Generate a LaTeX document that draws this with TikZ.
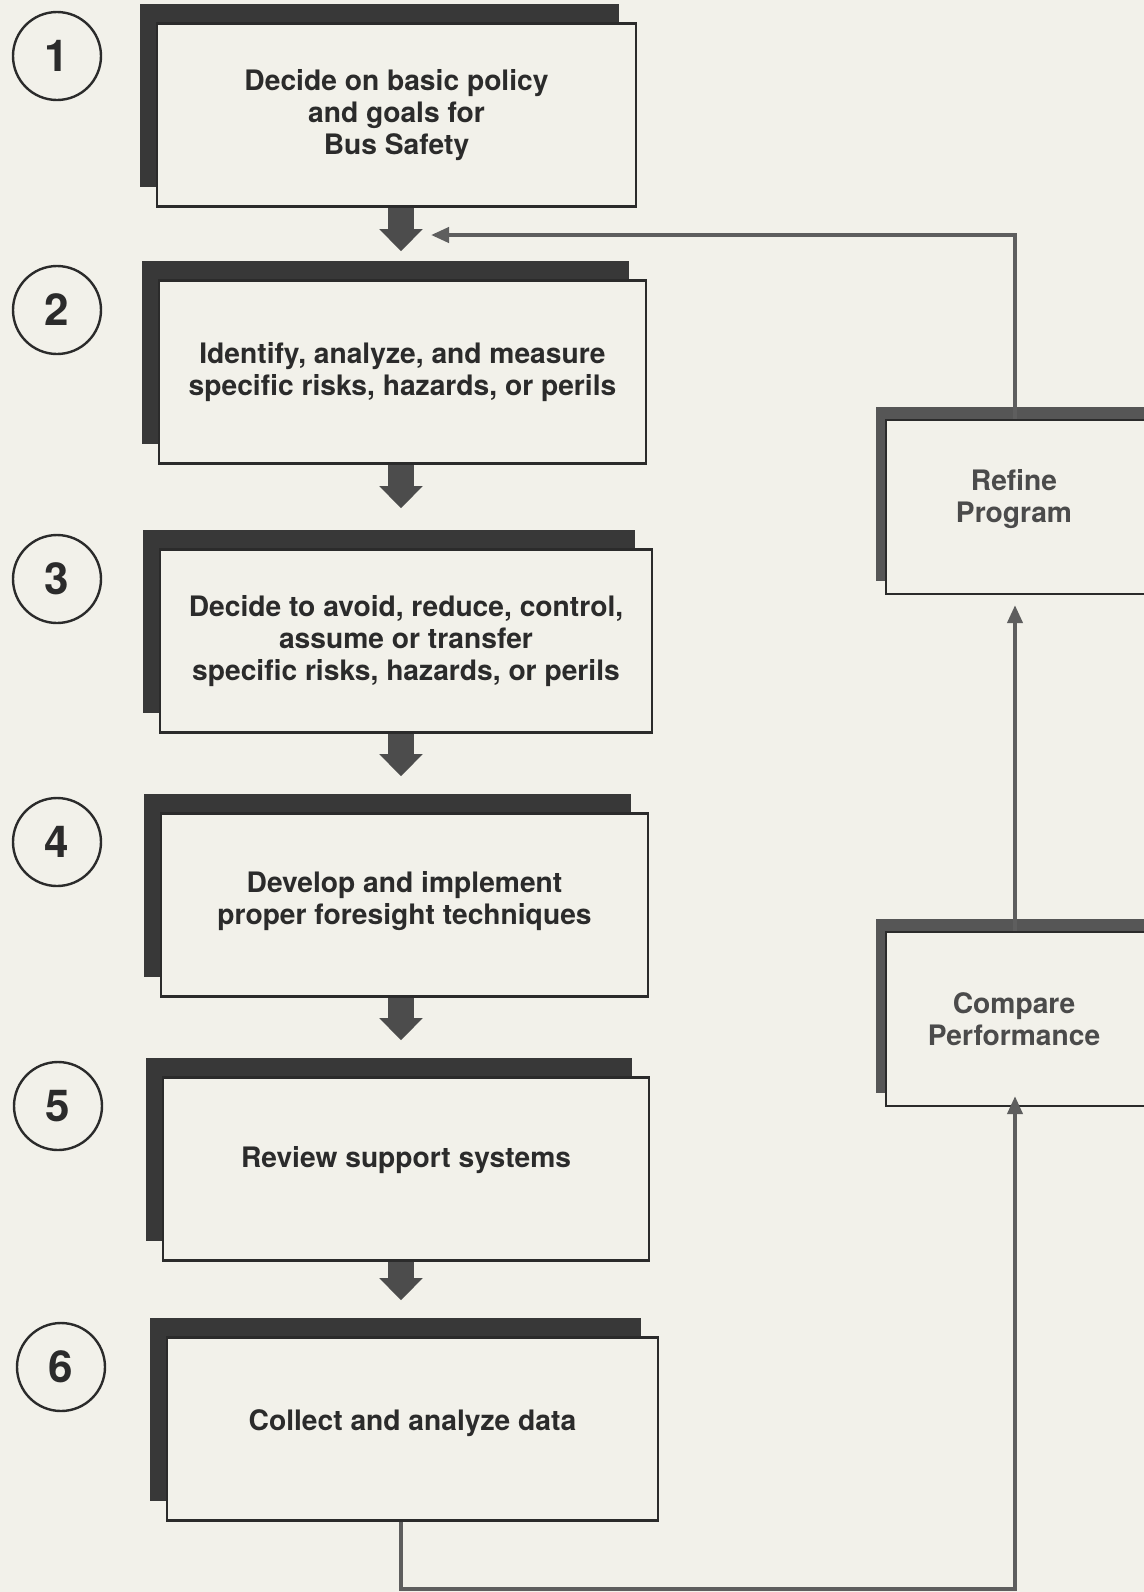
\documentclass[tikz,border=0pt]{standalone}
\usepackage{fontspec}
\setmainfont{TeX Gyre Heros}
\usetikzlibrary{arrows.meta}
\usetikzlibrary{shadows}

\definecolor{paper}{HTML}{F2F1EA}
\definecolor{ink}{HTML}{2B2B2B}
\definecolor{shade}{HTML}{383838}
\definecolor{wire}{HTML}{5E5E5E}

\tikzset{
  stepbox/.style={rectangle,draw=ink,line width=1.3pt,fill=paper,text=ink,align=center,
    minimum height=91.5pt,
    font=\bfseries\fontsize{14.1}{15.8}\selectfont,
    general shadow={fill=shade,shadow xshift=-8.5pt,shadow yshift=10pt}},
  sidebox/.style={rectangle,draw=ink,line width=1.1pt,fill=paper,
    minimum width=137pt,minimum height=87pt,
    general shadow={fill=shade!85,shadow xshift=-5pt,shadow yshift=6.5pt}},
  sidetext/.style={align=center,text=ink!85,xshift=-4.5pt,
    font=\bfseries\fontsize{14.1}{15.8}\selectfont},
  numcircle/.style={circle,draw=ink,line width=1.2pt,minimum size=44pt,inner sep=0pt,
    text=ink,font=\bfseries\fontsize{22}{22}\selectfont},
  blockarrow/.style={draw=shade!90,line width=13pt,-{Triangle[length=11pt,width=21pt]},shorten >=18pt},
  feedline/.style={draw=wire,line width=2pt,-{Triangle[length=9pt,width=7.5pt]}}
}

\begin{document}
\begin{tikzpicture}[x=0.5pt,y=-0.5pt]
\useasboundingbox (0,0) rectangle (1144,1592);
\fill[paper] (0,0) rectangle (1144,1592);

\node[numcircle] (n1) at (57,56) {1};
\node[numcircle] (n2) at (57,310) {2};
\node[numcircle] (n3) at (57,579) {3};
\node[numcircle] (n4) at (57,842) {4};
\node[numcircle] (n5) at (58,1106) {5};
\node[numcircle] (n6) at (61,1367) {6};

\node[stepbox,minimum width=239.5pt] (box1) at (396.5,115) {Decide on basic policy\\and goals for\\Bus Safety};
\node[stepbox,minimum width=243.5pt] (box2) at (402.5,372) {Identify, analyze, and measure\\specific risks, hazards, or perils};
\node[stepbox,minimum width=246pt] (box3) at (406,641) {Decide to avoid, reduce, control,\\assume or transfer\\specific risks, hazards, or perils};
\node[stepbox,minimum width=243.5pt,text depth=7pt] (box4) at (404.5,905) {Develop and implement\\proper foresight techniques};
\node[stepbox,minimum width=243pt,text depth=12pt] (box5) at (406,1169) {Review support systems};
\node[stepbox,minimum width=245.5pt,text depth=9pt] (box6) at (412.5,1429) {Collect and analyze data};

\node[sidebox,label={[sidetext,yshift=4pt]center:Refine\\Program}] (ref) at (1023,507) {};
\node[sidebox,label={[sidetext]center:Compare\\Performance}] (cmp) at (1023,1019) {};

\coordinate (spine) at (401,0);
\draw[blockarrow,shorten >=14pt] (box1.south -| spine) -- (box2.north -| spine);
\draw[blockarrow,shorten >=20pt] (box2.south -| spine) -- (box3.north -| spine);
\draw[blockarrow] (box3.south -| spine) -- (box4.north -| spine);
\draw[blockarrow] (box4.south -| spine) -- (box5.north -| spine);
\draw[blockarrow] (box5.south -| spine) -- (box6.north -| spine);

\coordinate (fb) at (1015,1589);
\coordinate (ret) at (1015,235);
\draw[feedline,shorten >=-5.5pt] (box6.south -| spine) |- (fb) -- (cmp.south -| fb);
\draw[feedline,shorten >=5pt] (cmp.north -| fb) -- (ref.south -| fb);
\draw[feedline,shorten >=15pt] (ref.north -| ret) -- (ret) -- (ret -| spine);

\end{tikzpicture}
\end{document}
